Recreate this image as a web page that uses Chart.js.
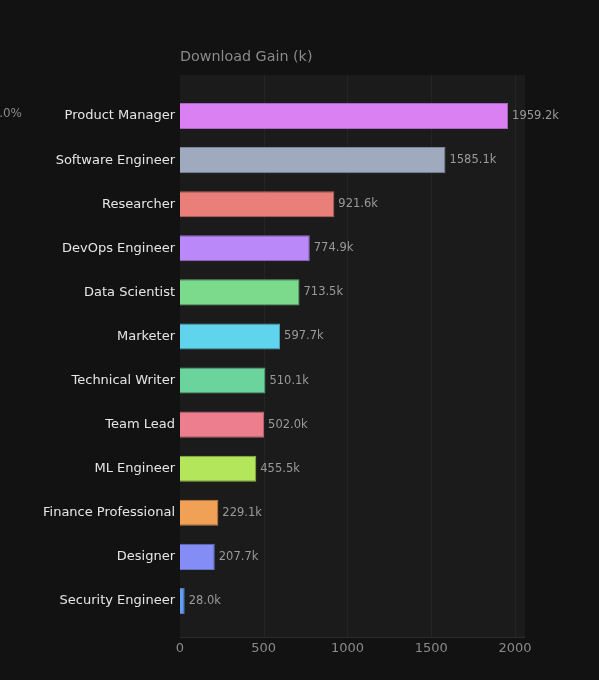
<!DOCTYPE html>
<html>
<head>
<meta charset="utf-8">
<script src="https://cdn.jsdelivr.net/npm/chart.js@4.4.1/dist/chart.umd.min.js"></script>
<style>
  html, body { margin: 0; padding: 0; background: #121212; }
  #wrap { width: 599px; height: 680px; position: relative; }
</style>
</head>
<body>
<div id="wrap"><canvas id="chart"></canvas></div>
<script>
// Download gain per role, in thousands
const roles = [
  "Product Manager", "Software Engineer", "Researcher", "DevOps Engineer",
  "Data Scientist", "Marketer", "Technical Writer", "Team Lead",
  "ML Engineer", "Finance Professional", "Designer", "Security Engineer",
];
const gains = [1959.2, 1585.1, 921.6, 774.9, 713.5, 597.7, 510.1, 502.0, 455.5, 229.1, 207.7, 28.0];
const barColors = [
  "#da80f2", "#9faabe", "#ea7e79", "#ba88f9", "#7bda8b", "#60d3ed",
  "#6bd39c", "#ec7e8d", "#b4e65b", "#f1a156", "#838df5", "#609cf1",
];
const xTicks = [0, 500, 1000, 1500, 2000];

const FONT = "'DejaVu Sans', sans-serif";

// panel background, grid and header text
const panelPlugin = {
  id: "panel",
  beforeDatasetsDraw(chart) {
    const { ctx, chartArea: a, scales: { x } } = chart;
    const top = a.top - 19, bottom = a.bottom + 14;
    ctx.save();
    ctx.fillStyle = "#1b1b1b";
    ctx.fillRect(a.left, top, a.right - a.left, bottom - top);
    ctx.strokeStyle = "rgba(255,255,255,0.045)";
    ctx.lineWidth = 1;
    xTicks.forEach(v => {
      if (v === 0) return;
      const px = Math.round(x.getPixelForValue(v)) + 0.5;
      ctx.beginPath();
      ctx.moveTo(px, top);
      ctx.lineTo(px, bottom);
      ctx.stroke();
    });
    ctx.strokeStyle = "#2c2c2c";
    ctx.beginPath();
    ctx.moveTo(a.left, bottom + 0.5);
    ctx.lineTo(a.right, bottom + 0.5);
    ctx.stroke();
    ctx.fillStyle = "#8a8a8a";
    ctx.font = "14.3px " + FONT;
    ctx.textAlign = "left";
    ctx.textBaseline = "middle";
    ctx.fillText("Download Gain (k)", a.left, 57);
    ctx.font = "12px " + FONT;
    ctx.textAlign = "right";
    ctx.fillText("100.0%", 22, 114);
    ctx.restore();
  },
  afterDatasetsDraw(chart) {
    const { ctx } = chart;
    const meta = chart.getDatasetMeta(0);
    ctx.save();
    ctx.fillStyle = "#9a9a9a";
    ctx.font = "11.5px " + FONT;
    ctx.textAlign = "left";
    ctx.textBaseline = "middle";
    meta.data.forEach((bar, i) => {
      ctx.fillText(gains[i].toFixed(1) + "k", bar.x + 4, bar.y);
    });
    ctx.restore();
  },
};

new Chart(document.getElementById("chart"), {
  type: "bar",
  data: {
    labels: roles,
    datasets: [{
      data: gains,
      backgroundColor: barColors,
      borderColor: barColors.map(c => c + "c0"),
      borderWidth: 1,
      barPercentage: 0.59,
      categoryPercentage: 1,
    }],
  },
  options: {
    indexAxis: "y",
    responsive: true,
    maintainAspectRatio: false,
    animation: false,
    layout: { padding: { top: 94, right: 74, bottom: 0, left: 0 } },
    plugins: {
      legend: { display: false },
      title: { display: false },
      tooltip: { enabled: false },
    },
    scales: {
      x: {
        min: 0,
        max: 2060,
        grid: { display: false, drawTicks: false },
        border: { display: false },
        afterBuildTicks(scale) { scale.ticks = xTicks.map(v => ({ value: v })); },
        ticks: {
          color: "#8a8a8a",
          padding: 18,
          font: { family: FONT, size: 13 },
          callback: v => String(v),
        },
        afterFit(scale) { scale.height = 57; },
      },
      y: {
        grid: { display: false, drawTicks: false },
        border: { display: false },
        ticks: {
          color: "#e6e6e6",
          padding: 5,
          font: { family: FONT, size: 13 },
        },
        afterFit(scale) { scale.width = 180; },
      },
    },
  },
  plugins: [panelPlugin],
});
</script>
</body>
</html>
